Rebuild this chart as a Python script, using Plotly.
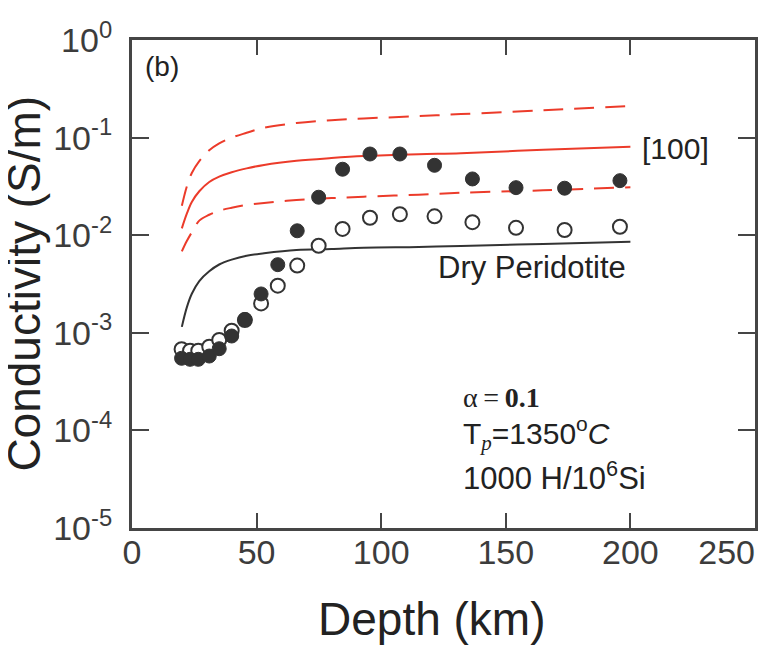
import math
import plotly.graph_objects as go

# ---- data ----
obs_depth = [19.9, 23.3, 26.6, 31.0, 35.0, 40.0, 45.3, 51.8, 58.5, 66.3, 74.9,
             84.5, 95.5, 107.5, 121.4, 136.6, 154.1, 173.6, 195.8]
filled_sigma = [5.48e-4, 5.35e-4, 5.35e-4, 5.78e-4, 6.87e-4, 9.27e-4, 1.37e-3,
                2.50e-3, 4.99e-3, 1.11e-2, 2.45e-2, 4.74e-2, 6.79e-2, 6.79e-2,
                5.20e-2, 3.77e-2, 3.07e-2, 3.03e-2, 3.62e-2]
open_sigma = [6.78e-4, 6.56e-4, 6.56e-4, 7.21e-4, 8.44e-4, 1.05e-3, 1.35e-3,
              2.00e-3, 3.04e-3, 4.88e-3, 7.80e-3, 1.16e-2, 1.51e-2, 1.64e-2,
              1.56e-2, 1.36e-2, 1.19e-2, 1.13e-2, 1.22e-2]

model_depth = [20, 22, 24, 27, 31, 35, 40, 46, 53, 66, 80, 93, 115, 132, 165, 200]
upper_dashed = [0.0200, 0.0316, 0.0434, 0.0575, 0.0741, 0.0871, 0.100, 0.112,
                0.126, 0.141, 0.151, 0.157, 0.166, 0.174, 0.191, 0.211]
red_100 = [0.01175, 0.0166, 0.0219, 0.0282, 0.0351, 0.0398, 0.0442, 0.0484,
           0.0525, 0.0579, 0.0617, 0.0646, 0.0676, 0.0692, 0.0750, 0.0807]
lower_dashed = [0.00684, 0.00871, 0.0107, 0.0141, 0.0162, 0.0178, 0.0191, 0.0204,
                0.0214, 0.0229, 0.0240, 0.0248, 0.0260, 0.0272, 0.0288, 0.0310]
dry_peridotite = [0.00115, 0.00182, 0.00251, 0.00339, 0.00427, 0.00501, 0.00562,
                  0.00617, 0.00653, 0.00705, 0.00724, 0.00745, 0.00759, 0.00776,
                  0.00813, 0.00857]

x_ticks = [0, 50, 100, 150, 200, 250]
x_ticktext = ["0", "50", "100", "150", "200", "250" + "\u00a0" * 6]
y_tickvals = [1, 0.1, 0.01, 0.001, 0.0001, 0.00001]
y_ticktext = ["10<sup>0</sup>", "10<sup>-1</sup>", "10<sup>-2</sup>",
              "10<sup>-3</sup>", "10<sup>-4</sup>", "10<sup>-5</sup>"]

RED = "#ec3b2a"
DARK = "#333333"
AXIS = "#454545"
SANS = "Liberation Sans, Arial, sans-serif"
SERIF = "Liberation Serif, Times New Roman, serif"

fig = go.Figure()
line_common = dict(mode="lines", line_shape="spline", showlegend=False, hoverinfo="skip")
fig.add_trace(go.Scatter(x=model_depth, y=upper_dashed, line=dict(color=RED, width=2, dash="20px,11px"), **line_common))
fig.add_trace(go.Scatter(x=model_depth, y=red_100, line=dict(color=RED, width=2), **line_common))
fig.add_trace(go.Scatter(x=model_depth, y=lower_dashed, line=dict(color=RED, width=2, dash="20px,11px"), **line_common))
fig.add_trace(go.Scatter(x=model_depth, y=dry_peridotite, line=dict(color=DARK, width=2), **line_common))

fig.add_trace(go.Scatter(x=obs_depth, y=open_sigma, mode="markers", showlegend=False,
                         marker=dict(symbol="circle", size=14, color="white",
                                     line=dict(color=DARK, width=2))))
fig.add_trace(go.Scatter(x=obs_depth, y=filled_sigma, mode="markers", showlegend=False,
                         marker=dict(symbol="circle", size=14, color=DARK,
                                     line=dict(color=DARK, width=1))))

fig.update_xaxes(range=[0, 250], tickvals=x_ticks, ticktext=x_ticktext,
                 ticks="inside", ticklen=15,
                 tickwidth=2, tickcolor=AXIS, showline=True, linewidth=3,
                 linecolor=AXIS, mirror="ticks", showgrid=False, zeroline=False,
                 tickfont=dict(family=SANS, size=34, color="#3c3c3c"),
                 ticklabelstandoff=-8, ticklabeloverflow="allow", automargin=False)
fig.update_yaxes(type="log", range=[-5, 0], tickvals=y_tickvals, ticktext=y_ticktext,
                 ticks="inside", ticklen=17, tickwidth=2, tickcolor=AXIS,
                 showline=True, linewidth=3, linecolor=AXIS, mirror="ticks",
                 showgrid=False, zeroline=False,
                 tickfont=dict(family=SANS, size=34, color="#3c3c3c"),
                 ticklabelstandoff=10, automargin=False)

ann_font = dict(family=SANS, size=31, color="#222")
annotations = [
    # axis titles
    dict(text="Depth (km)", x=0.48, y=-0.186, xref="paper", yref="paper",
         xanchor="center", yanchor="middle", showarrow=False,
         font=dict(family=SANS, size=46, color="#222")),
    dict(text="Conductivity (S/m)", x=-0.174, y=0.5, xref="paper", yref="paper",
         xanchor="center", yanchor="middle", textangle=-90, showarrow=False,
         font=dict(family=SANS, size=46, color="#222")),
    dict(text="(b)", x=0.018, y=0.945, xref="paper", yref="paper", xanchor="left",
         yanchor="middle", showarrow=False, font=dict(family=SANS, size=28, color="#222")),
    dict(text="[100]", x=204.0, y=math.log10(0.0765), xref="x", yref="y", xanchor="left",
         yanchor="middle", showarrow=False, font=dict(family=SANS, size=30, color="#222")),
    dict(text="Dry Peridotite", x=199, y=-2.33, xref="x", yref="y", xanchor="right",
         yanchor="middle", showarrow=False, font=ann_font),
    dict(text="α\u2009=\u2009<b>0.1</b>", x=132.0, y=-3.66, xref="x", yref="y", xanchor="left",
         yanchor="middle", showarrow=False, font=dict(family=SERIF, size=28, color="#222")),
    dict(text="T<sub><span style='font-family:Liberation Serif'><i>p</i></span></sub>=1350<sup>o</sup><i>C</i>",
         x=132.0, y=-4.03, xref="x", yref="y", xanchor="left",
         yanchor="middle", showarrow=False, font=dict(family=SANS, size=30, color="#222")),
    dict(text="1000 H/10<sup>6</sup>Si", x=132.0, y=-4.47, xref="x", yref="y", xanchor="left",
         yanchor="middle", showarrow=False, font=dict(family=SANS, size=31, color="#222")),
]

# the page body adds an 8 px margin, so the figure is 8 px smaller and shifted
fig.update_layout(width=760, height=639,
                  margin=dict(l=124, r=13, t=32, b=119, autoexpand=False),
                  paper_bgcolor="white", plot_bgcolor="white",
                  annotations=annotations, showlegend=False)

fig.write_html("out.html")
